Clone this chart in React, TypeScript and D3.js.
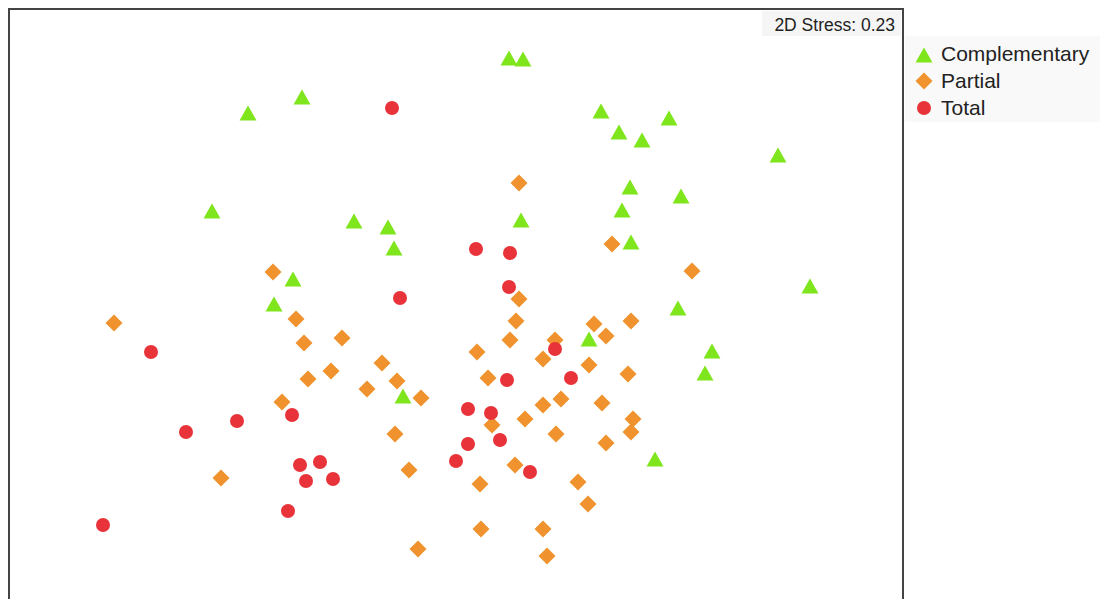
import React from "react";
import * as d3 from "d3";

// NMDS coordinates (axis 1, axis 2)
const complementaryX = [0.265, 0.335, -0.77, -1.04, 0.725, 0.815, 1.065, 0.93, 1.61, 0.87, 1.125, 0.83, -1.22, -0.51, -0.34, 0.325, 0.875, -0.31, -0.815, -0.91, 1.77, 1.11, 0.665, 1.28, 1.245, -0.265, 0.995];
const complementaryY = [1.255, 1.25, 1.06, 0.98, 0.99, 0.885, 0.955, 0.845, 0.77, 0.61, 0.565, 0.495, 0.49, 0.44, 0.41, 0.445, 0.335, 0.305, 0.15, 0.025, 0.115, 0.005, -0.15, -0.21, -0.32, -0.435, -0.75];

const partialX = [-1.71, -0.915, -0.8, -0.76, -0.57, -0.74, -0.625, -0.87, -1.175, -0.37, -0.445, -0.295, -0.175, -0.305, -0.235, -0.19, 0.315, 0.78, 1.18, 0.315, 0.3, 0.27, 0.105, 0.495, 0.435, 0.69, 0.75, 0.875, 0.665, 0.86, 0.16, 0.525, 0.435, 0.73, 0.345, 0.18, 0.5, 0.885, 0.875, 0.75, 0.295, 0.12, 0.61, 0.66, 0.125, 0.435, 0.455];
const partialY = [-0.07, 0.185, -0.05, -0.17, -0.145, -0.35, -0.31, -0.465, -0.845, -0.27, -0.4, -0.36, -0.445, -0.625, -0.805, -1.2, 0.63, 0.325, 0.19, 0.05, -0.06, -0.155, -0.215, -0.155, -0.25, -0.075, -0.135, -0.06, -0.28, -0.325, -0.345, -0.45, -0.48, -0.47, -0.55, -0.58, -0.625, -0.55, -0.615, -0.67, -0.78, -0.875, -0.865, -0.975, -1.1, -1.1, -1.235];

const totalX = [-0.32, 0.1, 0.27, 0.265, -0.28, -1.525, 0.495, 0.255, 0.575, 0.06, 0.175, -0.82, -1.095, -1.35, 0.06, 0.22, 0.0, 0.37, -0.78, -0.68, -0.75, -0.615, -0.84, -1.765];
const totalY = [1.005, 0.3, 0.28, 0.11, 0.055, -0.215, -0.2, -0.355, -0.345, -0.5, -0.52, -0.53, -0.56, -0.615, -0.675, -0.655, -0.76, -0.815, -0.78, -0.765, -0.86, -0.85, -1.01, -1.08];

const groups = ["Complementary", "Partial", "Total"];
const groupColors = ["#7FE51C", "#F0922E", "#E8333A"];
const stressLabel = "2D Stress: 0.23";

const W = 1100;
const H = 599;
const FONT = "Arial, 'Liberation Sans', sans-serif";

const trianglePath = "M0,-7.5L8.5,7.5L-8.5,7.5Z";
const diamondPath = "M0,-8.5L8.5,0L0,8.5L-8.5,0Z";

function Marker({ kind, x, y, color }: { kind: number; x: number; y: number; color: string }) {
  if (kind === 0) return <path d={trianglePath} transform={`translate(${x},${y})`} fill={color} />;
  if (kind === 1) return <path d={diamondPath} transform={`translate(${x},${y})`} fill={color} />;
  return <circle cx={x} cy={y} r={7} fill={color} />;
}

export default function App() {
  const left = 9, right = 903, top = 9, bottom = 609;
  const x = d3.scaleLinear().domain([-2.235, 2.235]).range([left, right]);
  const y = d3.scaleLinear().domain([1.5, -1.5]).range([top, bottom]);

  const partial = d3.zip(partialX, partialY);
  const comp = d3.zip(complementaryX, complementaryY);
  const total = d3.zip(totalX, totalY);

  return (
    <svg width={W} height={H} style={{ position: "absolute", left: 0, top: 0, background: "#fff" }}>
      <rect x={0} y={0} width={W} height={H} fill="#fff" />
      <defs>
        <clipPath id="plotclip">
          <rect x={left} y={top} width={right - left} height={bottom - top} />
        </clipPath>
      </defs>
      <g clipPath="url(#plotclip)">
        {partial.map((d, i) => (
          <Marker key={"p" + i} kind={1} x={x(d[0])} y={y(d[1])} color={groupColors[1]} />
        ))}
        {comp.map((d, i) => (
          <Marker key={"c" + i} kind={0} x={x(d[0])} y={y(d[1])} color={groupColors[0]} />
        ))}
        {total.map((d, i) => (
          <Marker key={"t" + i} kind={2} x={x(d[0])} y={y(d[1])} color={groupColors[2]} />
        ))}
      </g>
      <rect x={762} y={11} width={139} height={25} fill="#f5f5f5" />
      <text x={895} y={31} textAnchor="end" fontFamily={FONT} fontSize={17.5} fill="#222">
        {stressLabel}
      </text>
      <rect x={left} y={top} width={right - left} height={bottom - top + 20} fill="none" stroke="#444" strokeWidth={2} />
      <rect x={905} y={36} width={195} height={86} fill="#f9f9f9" />
      {groups.map((g, i) => {
        const cy = 54 + i * 27;
        return (
          <g key={g}>
            <Marker kind={i} x={924} y={cy + (i === 0 ? 1 : 0)} color={groupColors[i]} />
            <text x={941} y={cy + 7} fontFamily={FONT} fontSize={21} fill="#222">
              {g}
            </text>
          </g>
        );
      })}
    </svg>
  );
}
